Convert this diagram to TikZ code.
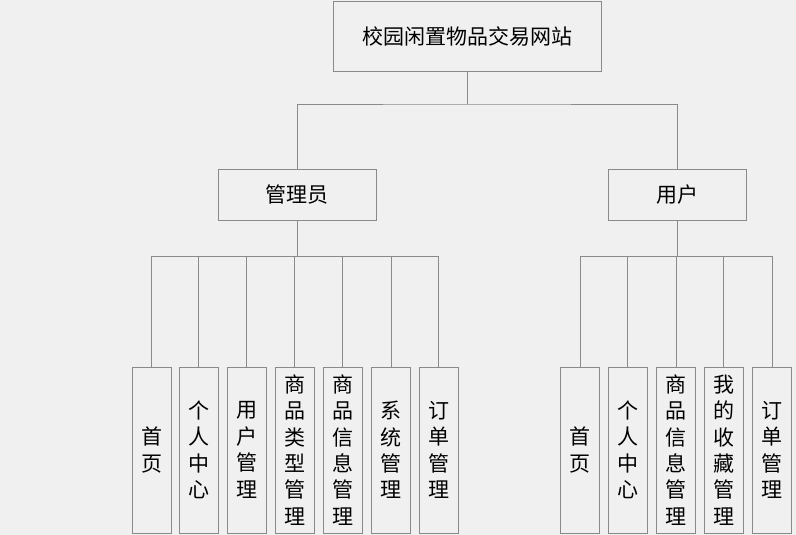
\documentclass[tikz,border=0pt]{standalone}
\usepackage{fontspec}
\setmainfont{Noto Sans CJK SC}
\definecolor{bgcol}{HTML}{F0F0F0}
\definecolor{linecol}{HTML}{8A8A8A}
\begin{document}
\begin{tikzpicture}[x=1pt, y=-1pt,
	box/.style={draw=linecol, fill=bgcol, line width=0.9pt, inner sep=0pt, font=\fontsize{21}{26.4}\selectfont},
	leaf/.style={box, minimum width=39pt, minimum height=166pt, align=center},
	link/.style={draw=linecol, line width=0.9pt}]
	\fill[bgcol] (0,0) rectangle (796,535);
	\useasboundingbox (0,0) rectangle (796,535);

	\node[box, minimum width=268pt, minimum height=70pt](site) at (467,36){校园闲置物品交易网站};
	\node[box, minimum width=158pt, minimum height=51pt](admin) at (297,194.5){管理员};
	\node[box, minimum width=138pt, minimum height=51pt](user) at (677,194.5){用户};

	\node[leaf](aone) at (151.5,450){首\\页};
	\node[leaf](atwo) at (198.5,450){个\\人\\中\\心};
	\node[leaf](athree) at (246.5,450){用\\户\\管\\理};
	\node[leaf](afour) at (294.5,450){商\\品\\类\\型\\管\\理};
	\node[leaf](afive) at (342.5,450){商\\品\\信\\息\\管\\理};
	\node[leaf](asix) at (391,450){系\\统\\管\\理};
	\node[leaf](aseven) at (438.5,450){订\\单\\管\\理};

	\node[leaf](uone) at (580,450){首\\页};
	\node[leaf](utwo) at (627.5,450){个\\人\\中\\心};
	\node[leaf](uthree) at (676,450){商\\品\\信\\息\\管\\理};
	\node[leaf](ufour) at (723.5,450){我\\的\\收\\藏\\管\\理};
	\node[leaf](ufive) at (772,450){订\\单\\管\\理};

	\coordinate (topbus) at (467,104);
	\coordinate (abus) at (297,256);
	\coordinate (ubus) at (677,256);

	\draw[link] (site.south) -- (topbus);
	\draw[link] (admin.north) |- (topbus) -| (user.north);

	\draw[link] (admin.south) -- (abus);
	\draw[link] (abus) -| (aone.north);
	\draw[link] (abus) -| (atwo.north);
	\draw[link] (abus) -| (athree.north);
	\draw[link] (abus) -| (afour.north);
	\draw[link] (abus) -| (afive.north);
	\draw[link] (abus) -| (asix.north);
	\draw[link] (abus) -| (aseven.north);

	\draw[link] (user.south) -- (ubus);
	\draw[link] (ubus) -| (uone.north);
	\draw[link] (ubus) -| (utwo.north);
	\draw[link] (ubus) -| (uthree.north);
	\draw[link] (ubus) -| (ufour.north);
	\draw[link] (ubus) -| (ufive.north);
\end{tikzpicture}
\end{document}
